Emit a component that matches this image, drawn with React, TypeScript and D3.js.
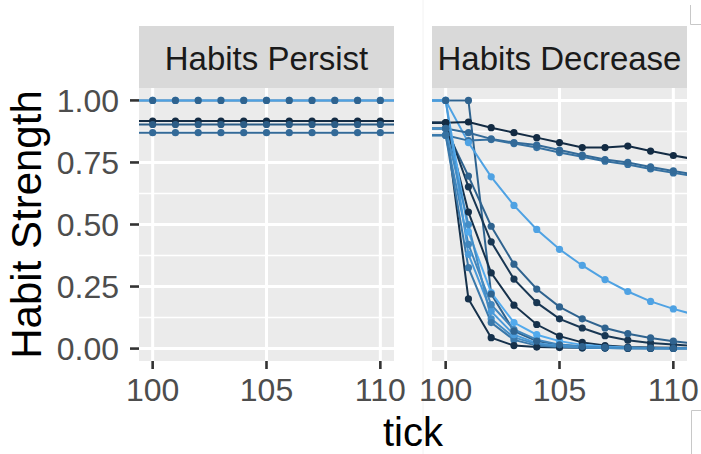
import React from 'react';
import * as d3 from 'd3';

// ticks on the x axis (99 and 111 sit just outside the visible window)
const ticks = [99, 100, 101, 102, 103, 104, 105, 106, 107, 108, 109, 110, 111];
const facets = ['Habits Persist', 'Habits Decrease'];
const xBreaks = [100, 105, 110];
const yBreaks = [0, 0.25, 0.5, 0.75, 1];
const yMinor = [0.125, 0.375, 0.625, 0.875];
const yLabels = ['0.00', '0.25', '0.50', '0.75', '1.00'];

// colour variable (0 = dark navy, 1 = light blue)
const persistShade = [0.45, 0.9, 0.4, 0.5, 0.0];
const persistSeries = [
  [1, 1, 1, 1, 1, 1, 1, 1, 1, 1, 1, 1, 1],
  [1, 1, 1, 1, 1, 1, 1, 1, 1, 1, 1, 1, 1],
  [0.903, 0.903, 0.903, 0.903, 0.903, 0.903, 0.903, 0.903, 0.903, 0.903, 0.903, 0.903, 0.903],
  [0.87, 0.87, 0.87, 0.87, 0.87, 0.87, 0.87, 0.87, 0.87, 0.87, 0.87, 0.87, 0.87],
  [0.917, 0.917, 0.917, 0.917, 0.917, 0.917, 0.917, 0.917, 0.917, 0.917, 0.917, 0.917, 0.917],
];

const decreaseShade = [0.45, 0.9, 0.5, 0.55, 0.0, 0.05, 0.45, 0.1, 0.05, 0.95, 0.7, 0.85, 0.6, 0.75];
const decreaseSeries = [
  [1, 1, 1, 0.22, 0.07, 0.03, 0.015, 0.008, 0.005, 0.003, 0.002, 0.001, 0.001],
  [1, 1, 0.83, 0.692, 0.577, 0.48, 0.4, 0.335, 0.278, 0.23, 0.19, 0.16, 0.135],
  [0.887, 0.887, 0.87, 0.845, 0.83, 0.82, 0.8, 0.78, 0.762, 0.75, 0.732, 0.716, 0.7],
  [0.86, 0.86, 0.838, 0.842, 0.826, 0.81, 0.79, 0.773, 0.755, 0.742, 0.724, 0.708, 0.694],
  [0.91, 0.91, 0.913, 0.89, 0.87, 0.85, 0.83, 0.81, 0.81, 0.816, 0.796, 0.778, 0.762],
  [0.91, 0.91, 0.2, 0.044, 0.012, 0.006, 0.004, 0.003, 0.002, 0.001, 0.001, 0.001, 0.001],
  [0.887, 0.887, 0.695, 0.493, 0.34, 0.24, 0.168, 0.12, 0.083, 0.06, 0.043, 0.03, 0.02],
  [0.91, 0.91, 0.652, 0.43, 0.28, 0.185, 0.12, 0.083, 0.052, 0.034, 0.023, 0.016, 0.01],
  [0.91, 0.91, 0.55, 0.305, 0.175, 0.097, 0.05, 0.025, 0.012, 0.006, 0.004, 0.003, 0.002],
  [1, 1, 0.47, 0.226, 0.105, 0.056, 0.03, 0.015, 0.008, 0.004, 0.002, 0.001, 0.001],
  [0.86, 0.86, 0.42, 0.177, 0.077, 0.036, 0.016, 0.008, 0.004, 0.002, 0.001, 0.001, 0.001],
  [1, 1, 0.38, 0.15, 0.056, 0.022, 0.01, 0.005, 0.003, 0.002, 0.001, 0.001, 0.001],
  [0.86, 0.86, 0.326, 0.105, 0.035, 0.012, 0.006, 0.003, 0.002, 0.001, 0.001, 0.001, 0.001],
  [0.887, 0.887, 0.5, 0.12, 0.045, 0.018, 0.008, 0.004, 0.002, 0.001, 0.001, 0.001, 0.001],
];

const W = 701;
const H = 454;
const panelTop = 88;
const panelBottom = 361;
const panelW = 255;
const panelLefts = [139, 432];
const stripTop = 26;
const font = '"Liberation Sans", Arial, Helvetica, sans-serif';

const color = d3.interpolateLab('#132B43', '#56B1F7');

const y = d3.scaleLinear().domain([-0.05, 1.05]).range([panelBottom, panelTop]);

const Panel = ({ idx, series, shade }: { idx: number; series: number[][]; shade: number[] }) => {
  const x0 = panelLefts[idx];
  const x = d3.scaleLinear().domain([99.4, 110.6]).range([x0, x0 + panelW]);
  const line = d3.line<number>()
    .x((_, i) => x(ticks[i]))
    .y(d => y(d));
  const clipId = `clip-${idx}`;

  return (
    <g>
      <defs>
        <clipPath id={clipId}>
          <rect x={x0} y={panelTop} width={panelW} height={panelBottom - panelTop} />
        </clipPath>
      </defs>
      {/* strip */}
      <rect x={x0} y={stripTop} width={panelW} height={panelTop - stripTop} fill="#D9D9D9" />
      <text x={x0 + panelW / 2} y={70} textAnchor="middle" fontSize={33} fill="#1A1A1A">
        {facets[idx]}
      </text>

      {/* panel background + grid */}
      <rect x={x0} y={panelTop} width={panelW} height={panelBottom - panelTop} fill="#EBEBEB" />
      {yMinor.map(v => (
        <line key={'m' + v} x1={x0} x2={x0 + panelW} y1={y(v)} y2={y(v)} stroke="#fff" strokeWidth={1.6} />
      ))}
      {yBreaks.map(v => (
        <line key={'y' + v} x1={x0} x2={x0 + panelW} y1={y(v)} y2={y(v)} stroke="#fff" strokeWidth={3} />
      ))}
      {xBreaks.map(v => (
        <line key={'x' + v} x1={x(v)} x2={x(v)} y1={panelTop} y2={panelBottom} stroke="#fff" strokeWidth={3} />
      ))}

      {/* data */}
      <g clipPath={`url(#${clipId})`}>
        {series.map((s, i) => (
          <path key={'l' + i} d={line(s) || ''} fill="none" stroke={color(shade[i])} strokeWidth={2} />
        ))}
        {series.slice().reverse().map((s, ri) => {
          const i = series.length - 1 - ri;
          return s.map((v, j) => (
            <circle key={`p${i}-${j}`} cx={x(ticks[j])} cy={y(v)} r={3.6} fill={color(shade[i])} />
          ));
        })}
      </g>

      {/* x axis */}
      {xBreaks.map(v => (
        <g key={'xt' + v}>
          <line x1={x(v)} x2={x(v)} y1={panelBottom} y2={panelBottom + 8} stroke="#333" strokeWidth={2.6} />
          <text x={x(v)} y={401} textAnchor="middle" fontSize={32} fill="#4D4D4D">{v}</text>
        </g>
      ))}
    </g>
  );
};

export default function App() {
  return (
    <svg
      width={W}
      height={H}
      style={{ position: 'absolute', left: 0, top: 0, background: '#fff' }}
      fontFamily={font}
    >
      <rect width={W} height={H} fill="#fff" />
      <line x1={423} x2={423} y1={0} y2={H} stroke="#F2F2F2" strokeWidth={1} />

      <Panel idx={0} series={persistSeries} shade={persistShade} />
      <Panel idx={1} series={decreaseSeries} shade={decreaseShade} />

      {/* y axis */}
      {yBreaks.map((v, i) => (
        <g key={'yt' + v}>
          <line x1={130} x2={139} y1={y(v)} y2={y(v)} stroke="#333" strokeWidth={2.6} />
          <text x={119} y={y(v) + 11.5} textAnchor="end" fontSize={32} fill="#4D4D4D">{yLabels[i]}</text>
        </g>
      ))}

      {/* axis titles */}
      <text
        transform={`translate(41,${(panelTop + panelBottom) / 2}) rotate(-90)`}
        textAnchor="middle"
        fontSize={42}
        fill="#000"
      >
        Habit Strength
      </text>
      <text x={(panelLefts[0] + panelLefts[1] + panelW) / 2} y={446} textAnchor="middle" fontSize={40} fill="#000">
        tick
      </text>

      {/* crop marks */}
      <path d="M690.5,5 V24.5 H701" fill="none" stroke="#C8C8C8" strokeWidth={1} />
      <path d="M691.5,454 V410.5 H701" fill="none" stroke="#C8C8C8" strokeWidth={1} />
    </svg>
  );
}
